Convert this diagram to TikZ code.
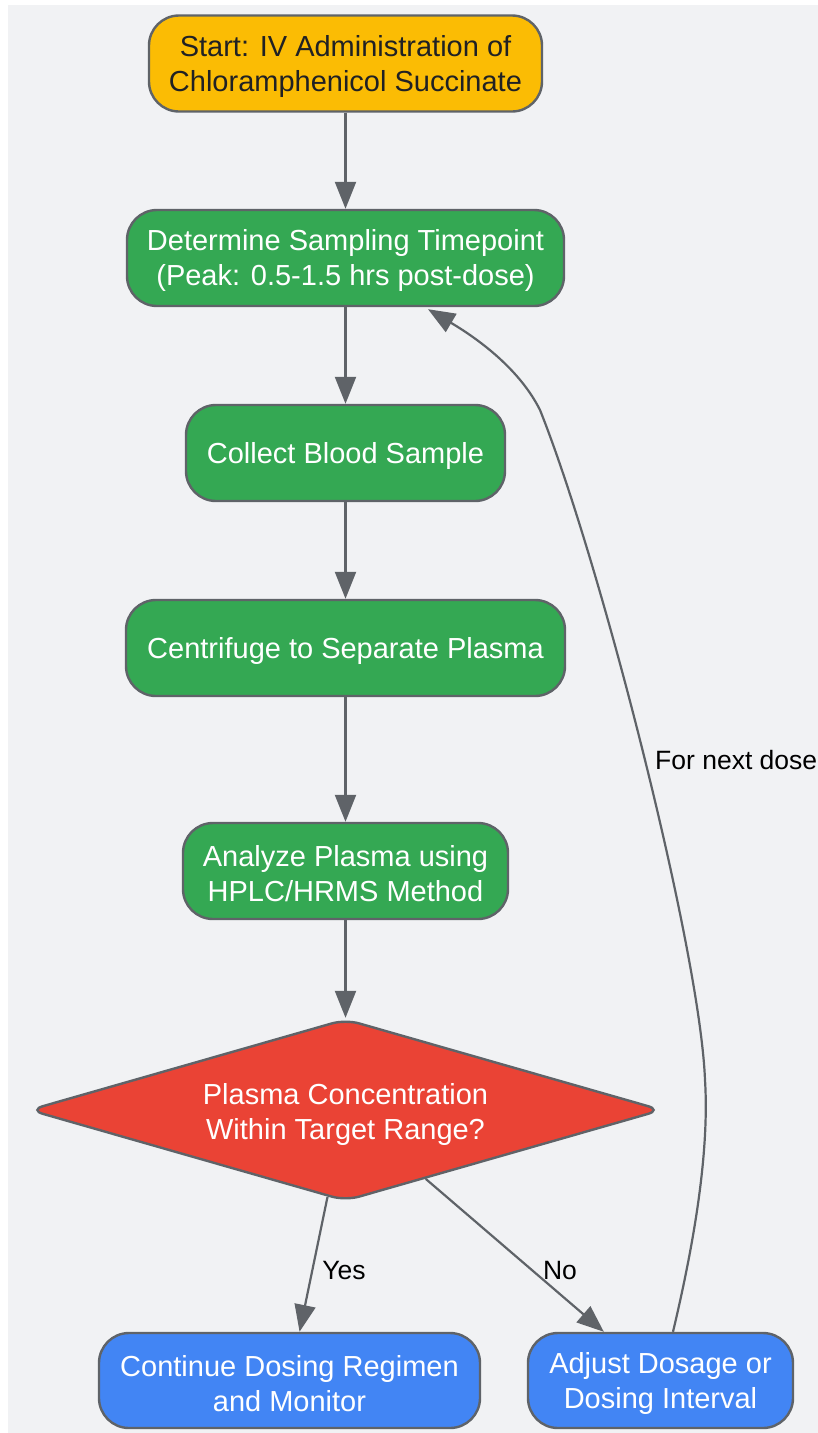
\documentclass[tikz,border=0pt]{standalone}
\usepackage{fontspec}
\setmainfont{Liberation Sans}
\usetikzlibrary{shapes.geometric,arrows.meta}
\definecolor{bgc}{HTML}{F1F2F4}
\definecolor{yel}{HTML}{FBBC04}
\definecolor{grn}{HTML}{34A853}
\definecolor{rd}{HTML}{EA4335}
\definecolor{blu}{HTML}{4285F4}
\definecolor{edgec}{HTML}{5F6368}
\definecolor{darktxt}{HTML}{202124}
\tikzset{
  box/.style={draw=edgec, line width=2.4pt, rounded corners=30pt, minimum height=96pt,
    align=center, inner sep=0pt, font=\fontsize{29}{35}\selectfont,
    execute at begin node={\rule{0pt}{27pt}}},
  twolines/.style={execute at begin node={\rule{0pt}{62pt}}},
  startbox/.style={box, fill=yel, text=darktxt},
  greenbox/.style={box, fill=grn, text=white},
  bluebox/.style={box, fill=blu, text=white},
  decision/.style={diamond, draw=edgec, line width=2.4pt, fill=rd, text=white, rounded corners=14pt,
    aspect=3.5, minimum width=633pt, minimum height=182pt, inner sep=0pt, align=center,
    font=\fontsize{29}{35}\selectfont, execute at begin node={\rule{0pt}{64pt}}},
  conn/.style={draw=edgec, line width=2.2pt, -{Triangle[length=27pt,width=21pt]}},
  elabel/.style={font=\fontsize{26.5}{32}\selectfont, text=black, inner sep=0pt}
}
\begin{document}
\begin{tikzpicture}[x=1pt,y=-1pt]
\useasboundingbox (0,0) rectangle (818,1433);
\fill[bgc] (8,5) rectangle (818,1433);

\node[startbox, twolines, minimum width=393pt] (start) at (345.5,63.5) {Start: IV Administration of\\Chloramphenicol Succinate};
\node[greenbox, twolines, minimum width=437pt] (det) at (345.5,258) {Determine Sampling Timepoint\\(Peak: 0.5-1.5 hrs post-dose)};
\node[greenbox, minimum width=319pt] (col) at (345.5,453) {Collect Blood Sample};
\node[greenbox, minimum width=439pt] (cen) at (345.5,648) {Centrifuge to Separate Plasma};
\node[greenbox, twolines, minimum width=325pt] (ana) at (345.5,871) {Analyze Plasma using\\HPLC/HRMS Method};
\node[decision] (dec) at (345.5,1110) {Plasma Concentration\\Within Target Range?};
\node[bluebox, twolines, minimum width=381pt, minimum height=95pt] (cont) at (289.5,1380.5) {Continue Dosing Regimen\\and Monitor};
\node[bluebox, twolines, minimum width=265pt, minimum height=95pt] (adj) at (660.5,1380.5) {Adjust Dosage or\\Dosing Interval};

\draw[conn] (start) -- (det);
\draw[conn] (det) -- (col);
\draw[conn] (col) -- (cen);
\draw[conn] (cen) -- (ana);
\draw[conn] (ana) -- (dec);
\draw[conn] (dec) -- (cont);
\draw[conn] (dec) -- (adj);
\draw[conn] ([xshift=12.5pt]adj.north) .. controls (690,1260) and (710,1160) .. (705,1080)
  .. controls (700,950) and (600,560) .. (540,410)
  .. controls (520,370) and (480,340) .. ([xshift=82.5pt,yshift=-2pt]det.south);

\node[elabel] (lyes) at (344,1270) {Yes};
\node[elabel] (lno) at (560,1270) {No};
\node[elabel, anchor=west] (lnext) at (655,760) {For next dose};
\end{tikzpicture}
\end{document}
